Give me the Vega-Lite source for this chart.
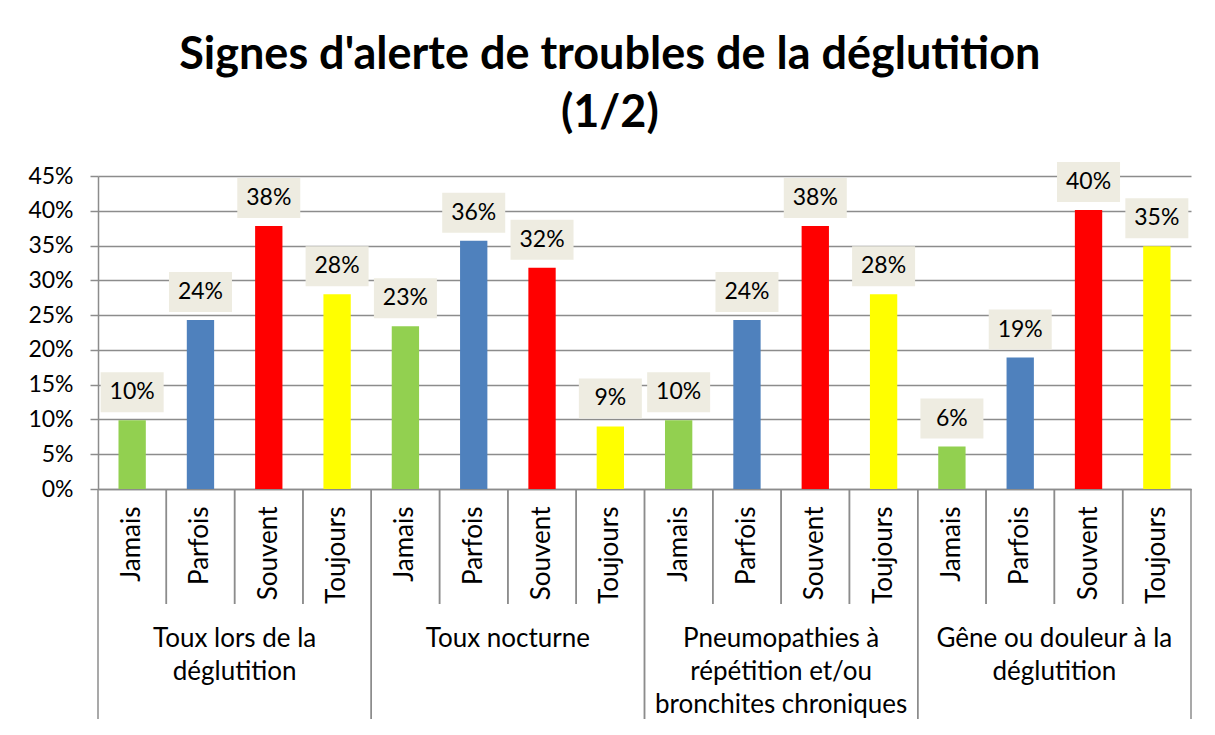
{
  "$schema": "https://vega.github.io/schema/vega-lite/v6.json",
  "padding": {"left": 27, "top": 33, "right": 25, "bottom": 10},
  "background": "white",
  "bounds": "flush",
  "title": {
    "text": ["Signes d'alerte de troubles de la déglutition", "(1/2)"],
    "font": "Lato",
    "fontSize": 45,
    "fontWeight": "bold",
    "color": "black",
    "lineHeight": 58,
    "anchor": "middle",
    "offset": 26
  },
  "datasets": {
    "barres": [
      {"categorie": "Toux lors de la déglutition|Jamais", "frequence": "Jamais", "valeur": 0.099},
      {"categorie": "Toux lors de la déglutition|Parfois", "frequence": "Parfois", "valeur": 0.243},
      {"categorie": "Toux lors de la déglutition|Souvent", "frequence": "Souvent", "valeur": 0.378},
      {"categorie": "Toux lors de la déglutition|Toujours", "frequence": "Toujours", "valeur": 0.280},
      {"categorie": "Toux nocturne|Jamais", "frequence": "Jamais", "valeur": 0.234},
      {"categorie": "Toux nocturne|Parfois", "frequence": "Parfois", "valeur": 0.357},
      {"categorie": "Toux nocturne|Souvent", "frequence": "Souvent", "valeur": 0.318},
      {"categorie": "Toux nocturne|Toujours", "frequence": "Toujours", "valeur": 0.090},
      {"categorie": "Pneumopathies|Jamais", "frequence": "Jamais", "valeur": 0.099},
      {"categorie": "Pneumopathies|Parfois", "frequence": "Parfois", "valeur": 0.243},
      {"categorie": "Pneumopathies|Souvent", "frequence": "Souvent", "valeur": 0.378},
      {"categorie": "Pneumopathies|Toujours", "frequence": "Toujours", "valeur": 0.280},
      {"categorie": "Gêne ou douleur|Jamais", "frequence": "Jamais", "valeur": 0.061},
      {"categorie": "Gêne ou douleur|Parfois", "frequence": "Parfois", "valeur": 0.189},
      {"categorie": "Gêne ou douleur|Souvent", "frequence": "Souvent", "valeur": 0.401},
      {"categorie": "Gêne ou douleur|Toujours", "frequence": "Toujours", "valeur": 0.349}
    ],
    "groupes": [
      {"groupe": "Toux lors de la déglutition", "libelle": "Toux lors de la\ndéglutition"},
      {"groupe": "Toux nocturne", "libelle": "Toux nocturne"},
      {"groupe": "Pneumopathies", "libelle": "Pneumopathies à\nrépétition et/ou\nbronchites chroniques"},
      {"groupe": "Gêne ou douleur", "libelle": "Gêne ou douleur à la\ndéglutition"}
    ]
  },
  "spacing": 0,
  "vconcat": [
    {
      "width": 1093,
      "height": 313,
      "data": {"name": "barres"},
      "encoding": {
        "x": {
          "field": "categorie",
          "type": "nominal",
          "sort": null,
          "scale": {"paddingInner": 0, "paddingOuter": 0, "round": false},
          "axis": {
            "title": null,
            "labels": false,
            "ticks": false,
            "domainColor": "#8c8c8c",
            "domainWidth": 1.5,
            "grid": false
          }
        },
        "y": {
          "field": "valeur",
          "type": "quantitative",
          "scale": {"domain": [0, 0.45]},
          "axis": {
            "title": null,
            "values": [0, 0.05, 0.1, 0.15, 0.2, 0.25, 0.3, 0.35, 0.4, 0.45],
            "tickCount": 10,
            "format": ".0%",
            "labelOverlap": false,
            "grid": true,
            "gridColor": "#8c8c8c",
            "gridWidth": 1.5,
            "domainColor": "#8c8c8c",
            "domainWidth": 1.5,
            "tickColor": "#8c8c8c",
            "tickWidth": 1.5,
            "tickSize": 8,
            "labelPadding": 17,
            "labelFont": "Lato",
            "labelFontSize": 23,
            "labelColor": "black"
          }
        }
      },
      "layer": [
        {
          "mark": {"type": "bar", "width": {"band": 0.4}},
          "encoding": {
            "color": {
              "field": "frequence",
              "type": "nominal",
              "scale": {
                "domain": ["Jamais", "Parfois", "Souvent", "Toujours"],
                "range": ["#92D050", "#4F81BD", "#FF0000", "#FFFF00"]
              },
              "legend": null
            }
          }
        },
        {
          "mark": {"type": "bar", "width": 63, "color": "#EEECE1", "yOffset": -48, "y2Offset": -8},
          "encoding": {
            "y2": {"field": "valeur"}
          }
        },
        {
          "mark": {"type": "text", "font": "Lato", "fontSize": 23, "color": "black", "baseline": "middle", "yOffset": -28},
          "encoding": {
            "text": {"field": "valeur", "type": "quantitative", "format": ".0%"}
          }
        }
      ]
    },
    {
      "width": 1093,
      "height": 115,
      "data": {"name": "barres"},
      "encoding": {
        "x": {
          "field": "categorie",
          "type": "nominal",
          "sort": null,
          "scale": {"paddingInner": 0, "paddingOuter": 0, "round": false},
          "axis": null
        }
      },
      "layer": [
        {
          "mark": {"type": "rule", "color": "#8c8c8c", "strokeWidth": 1.5},
          "encoding": {"x": {"field": "categorie", "type": "nominal", "sort": null, "bandPosition": 0}}
        },
        {
          "mark": {"type": "rule", "color": "#8c8c8c", "strokeWidth": 1.5},
          "encoding": {"x": {"field": "categorie", "type": "nominal", "sort": null, "bandPosition": 1}}
        },
        {
          "mark": {"type": "text", "font": "Lato", "fontSize": 26, "color": "black", "angle": 270, "align": "right", "baseline": "middle", "dx": 40},
          "encoding": {"text": {"field": "frequence"}}
        }
      ]
    },
    {
      "width": 1093,
      "height": 115,
      "data": {"name": "groupes"},
      "encoding": {
        "x": {
          "field": "groupe",
          "type": "nominal",
          "sort": null,
          "scale": {"paddingInner": 0, "paddingOuter": 0, "round": false},
          "axis": null
        }
      },
      "layer": [
        {
          "mark": {"type": "rule", "color": "#8c8c8c", "strokeWidth": 1.5},
          "encoding": {"x": {"field": "groupe", "type": "nominal", "sort": null, "bandPosition": 0}}
        },
        {
          "mark": {"type": "rule", "color": "#8c8c8c", "strokeWidth": 1.5},
          "encoding": {"x": {"field": "groupe", "type": "nominal", "sort": null, "bandPosition": 1}}
        },
        {
          "mark": {"type": "text", "font": "Lato", "fontSize": 26, "color": "black", "lineBreak": "\n", "lineHeight": 33, "baseline": "alphabetic", "dy": -15},
          "encoding": {"text": {"field": "libelle"}}
        }
      ]
    }
  ],
  "config": {"view": {"stroke": null}}
}
